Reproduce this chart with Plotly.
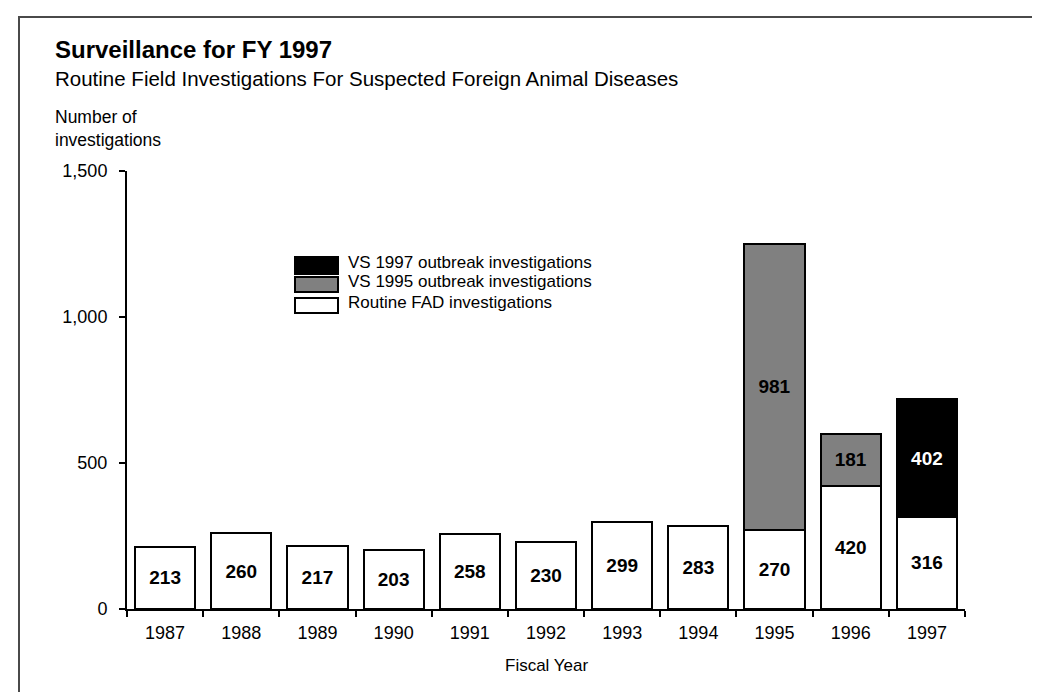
"""
Bar chart of routine field investigations for suspected foreign animal diseases.
"""
import plotly.graph_objects as go

# Data
years = ["1987", "1988", "1989", "1990", "1991", "1992",
         "1993", "1994", "1995", "1996", "1997"]
routine_fad = [213, 260, 217, 203, 258, 230, 299, 283, 270, 420, 316]
vs_1995_outbreak = [None, None, None, None, None, None, None, None, 981, 181, None]
vs_1997_outbreak = [None, None, None, None, None, None, None, None, None, None, 402]

y_ticks = [0, 500, 1000, 1500]
y_tick_labels = ["0", "500", "1,000", "1,500"]

FONT = "Liberation Sans, Arial, sans-serif"

# Plot area in pixels (used to place the free-floating text and legend)
PLOT_LEFT, PLOT_RIGHT = 119, 957
PLOT_TOP, PLOT_BOTTOM = 163, 601


def px_x(px):
    """Convert a pixel x position into paper coordinates."""
    return (px - PLOT_LEFT) / (PLOT_RIGHT - PLOT_LEFT)


def px_y(py):
    """Convert a pixel y position into paper coordinates."""
    return (PLOT_BOTTOM - py) / (PLOT_BOTTOM - PLOT_TOP)


def make_bar(values, name, fill, text_color):
    return go.Bar(
        x=years,
        y=values,
        name=name,
        marker=dict(color=fill, line=dict(color="black", width=2)),
        text=[str(v) if v is not None else "" for v in values],
        textposition="inside",
        insidetextanchor="middle",
        constraintext="none",
        textangle=0,
        textfont=dict(family=FONT, size=19, color=text_color, weight="bold"),
        showlegend=False,
    )


fig = go.Figure()
fig.add_trace(make_bar(routine_fad, "Routine FAD investigations", "white", "black"))
fig.add_trace(make_bar(vs_1995_outbreak, "VS 1995 outbreak investigations", "#808080", "black"))
fig.add_trace(make_bar(vs_1997_outbreak, "VS 1997 outbreak investigations", "black", "white"))

fig.update_layout(
    width=1040,
    height=692,
    barmode="stack",
    bargap=0.21,
    plot_bgcolor="white",
    paper_bgcolor="white",
    font=dict(family=FONT, color="black", size=18),
    margin=dict(l=PLOT_LEFT, r=1040 - PLOT_RIGHT, t=PLOT_TOP, b=692 - PLOT_BOTTOM),
)

fig.update_xaxes(
    type="category",
    range=[-0.5, 10.5],
    showline=True,
    linecolor="black",
    linewidth=2,
    ticks="outside",
    tickson="boundaries",
    ticklen=6,
    tickwidth=2,
    tickcolor="black",
    ticklabelstandoff=6,
    showgrid=False,
    tickfont=dict(size=18),
)
fig.update_yaxes(
    range=[0, 1500],
    tickvals=y_ticks,
    ticktext=y_tick_labels,
    showline=True,
    linecolor="black",
    linewidth=2,
    ticks="outside",
    ticklen=6,
    tickwidth=2,
    tickcolor="black",
    ticklabelstandoff=8,
    showgrid=False,
    zeroline=False,
    tickfont=dict(size=18),
)

# Outer frame around the whole chart
fig.add_shape(
    type="rect", xref="paper", yref="paper",
    x0=px_x(11), x1=px_x(1036), y0=px_y(720), y1=px_y(9),
    line=dict(color="#4a4a4a", width=2), fillcolor="rgba(0,0,0,0)",
    layer="below",
)

# Titles and axis titles
texts = [
    ("<b>Surveillance for FY 1997</b>", 45, 41, 24),
    ("Routine Field Investigations For Suspected Foreign Animal Diseases", 45, 70, 20.5),
    ("Number of<br>investigations", 45, 120, 17.5),
]
for text, x, y, size in texts:
    fig.add_annotation(
        text=text, xref="paper", yref="paper",
        x=px_x(x), y=px_y(y), xanchor="left", yanchor="middle",
        align="left", showarrow=False,
        font=dict(family=FONT, size=size, color="black"),
    )
fig.add_annotation(
    text="Fiscal Year", xref="paper", yref="paper",
    x=0.5, y=px_y(657), xanchor="center", yanchor="middle",
    showarrow=False, font=dict(family=FONT, size=17, color="black"),
)

# Hand-drawn legend (wide swatches like the original)
legend_items = [
    ("VS 1997 outbreak investigations", "black", 249, 266),
    ("VS 1995 outbreak investigations", "#808080", 269, 284),
    ("Routine FAD investigations", "white", 290, 305),
]
for label, fill, top, bottom in legend_items:
    fig.add_shape(
        type="rect", xref="paper", yref="paper",
        x0=px_x(287), x1=px_x(330), y0=px_y(bottom), y1=px_y(top),
        fillcolor=fill, line=dict(color="black", width=2),
    )
    fig.add_annotation(
        text=label, xref="paper", yref="paper",
        x=px_x(338), y=px_y((top + bottom) / 2 - 3),
        xanchor="left", yanchor="middle", showarrow=False,
        font=dict(family=FONT, size=17, color="black"),
    )

fig.write_html("out.html")
